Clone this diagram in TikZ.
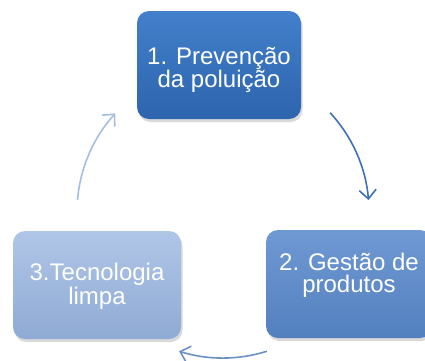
\documentclass[tikz,border=0pt]{standalone}
\usepackage{fontspec}
\setmainfont{Liberation Sans}
\usetikzlibrary{positioning,arrows.meta,shadows}

\definecolor{stageA}{HTML}{2D64AD}
\definecolor{stageAtop}{HTML}{4380CB}
\definecolor{stageB}{HTML}{5380BF}
\definecolor{stageBtop}{HTML}{6F99D3}
\definecolor{stageC}{HTML}{8FAAD4}
\definecolor{stageCtop}{HTML}{B0C6E7}
\definecolor{flowA}{HTML}{3D70B8}
\definecolor{flowB}{HTML}{6A90C8}
\definecolor{flowC}{HTML}{A5BDE0}

\begin{document}
\begin{tikzpicture}[
            x=1pt, y=1pt,
            stage/.style={rectangle, rounded corners=12pt, minimum height=108pt, text depth=0pt,
                text=white, align=center, font=\fontsize{24}{21.5}\selectfont,
                drop shadow={shadow xshift=1.5pt, shadow yshift=-3pt, opacity=0.3}},
            cycle/.style={line width=1.6pt, -{Straight Barb[length=9pt, width=17pt, line width=1.6pt]}},
            radius=146
        ]
        \useasboundingbox (0,0) rectangle (425,-360);
        % Centre of the cycle
        \coordinate (hub) at (223,-212);
        % Stages
        \node[stage, minimum width=164pt, text height=45pt, top color=stageAtop, bottom color=stageA] (prev) at (219,-65) {1. Prevenção\\da poluição};
        \node[stage, minimum width=166pt, text height=16pt, top color=stageBtop, bottom color=stageB] (gest) at (349,-284) {2. Gestão de\\produtos};
        \node[stage, minimum width=168pt, text height=38pt, top color=stageCtop, bottom color=stageC] (tecn) at (97,-285) {3.Tecnologia\\limpa};
        % Arrows
        \draw[cycle, flowA] ([shift={(42.8:146)}]hub) arc[start angle=42.8, end angle=4.7];
        \draw[cycle, flowB] ([shift={(-72.5:146)}]hub) arc[start angle=-72.5, end angle=-107.5];
        \draw[cycle, flowC] ([shift={(175.3:146)}]hub) arc[start angle=175.3, end angle=137.5];
    \end{tikzpicture}
\end{document}
